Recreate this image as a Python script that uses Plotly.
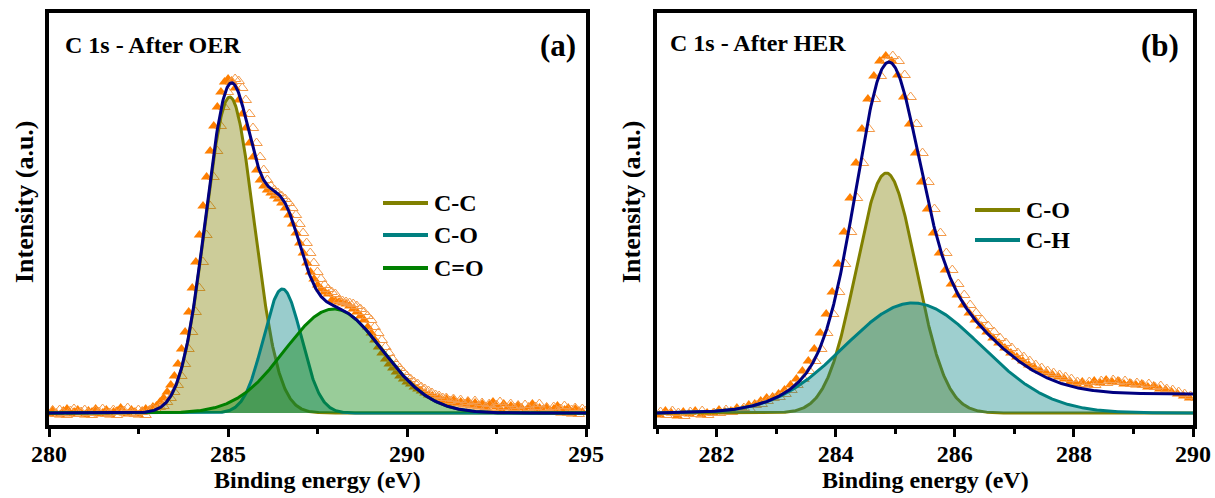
import numpy as np
import plotly.graph_objects as go

# ---------------- data: panel (a) C 1s after OER ----------------
oer_energy_start = 280.0
oer_energy_step = 0.1
oer_counts = [
    2, -1, 3, 0, -2, 2, 4, -1, 1, 3,
    0, -2, 2, 1, 4, -1, 0, 3, -2, 1,
    2, 5, 0, -1, 3, 1, -2, 2, 4, 3,
    6, 7, 11, 15, 21, 28, 37, 49, 64, 81,
    101, 125, 151, 178, 207, 236, 262, 287, 306, 321,
    331, 334, 332, 325, 313, 299, 285, 270, 256, 243,
    233, 227, 223, 220, 217, 214, 210, 205, 198, 189,
    180, 170, 160, 150, 141, 134, 128, 124, 121, 119,
    113, 112, 111, 110, 109, 107, 104, 101, 97, 93,
    86, 80, 73, 66, 60, 54, 49, 45, 41, 37,
    34, 31, 29, 26, 24, 22, 20, 18, 17, 15,
    15, 12, 14, 10, 13, 9, 11, 8, 12, 7,
    10, 6, 9, 5, 8, 11, 6, 4, 9, 5,
    7, 3, 8, 5, 2, 6, 9, 3, 5, 1,
    6, 2, 4, 7, 0, 3, 5, -1, 4, 2,
    1,
]
oer_peak_names = ["C-C", "C-O", "C=O"]
oer_peak_centers = [285.05, 286.52, 287.95]
oer_peak_heights = [316, 124, 104]
oer_peak_fwhm = [1.60, 1.25, 3.20]
oer_background = [0, 0]          # Shirley levels (low BE, high BE)

# ---------------- data: panel (b) C 1s after HER ----------------
her_energy_start = 281.0
her_energy_step = 0.1
her_counts = [
    1, -2, 2, 0, -3, 1, -1, 2, -2, 0,
    0, 3, 1, 2, 5, 4, 8, 9, 12, 15,
    16, 19, 23, 28, 34, 42, 52, 64, 80, 99,
    121, 149, 181, 215, 250, 284, 314, 337, 352, 357,
    352, 338, 316, 289, 260, 231, 204, 180, 160, 143,
    129, 118, 108, 100, 93, 87, 81, 75, 70, 65,
    60, 56, 52, 48, 45, 42, 40, 38, 36, 34,
    31, 29, 31, 28, 32, 30, 33, 31, 32, 29,
    30, 28, 29, 26, 27, 24, 23, 21, 19, 17,
    15,
]
her_peak_names = ["C-O", "C-H"]
her_peak_centers = [284.85, 285.30]
her_peak_heights = [240, 110]
her_peak_fwhm = [1.18, 2.71]
her_background = [0, 19]

# ---------------- styling ----------------
W, H = 1215, 498
FONT = "Times New Roman, Liberation Serif, serif"
data_fill = "#FF7F00"
data_open = "#F39A4A"
env_color = "#000080"
peak_line = {"C-C": "#808000", "C-O_a": "#008080", "C=O": "#008000",
             "C-O_b": "#808000", "C-H": "#008080"}
peak_fill = {"C-C": "rgba(128,128,0,0.40)", "C-O_a": "rgba(0,128,128,0.40)",
             "C=O": "rgba(0,128,0,0.40)", "C-O_b": "rgba(128,128,0,0.40)",
             "C-H": "rgba(0,128,128,0.38)"}

panels = [
    dict(start=oer_energy_start, step=oer_energy_step, counts=oer_counts,
         names=oer_peak_names, centers=oer_peak_centers, heights=oer_peak_heights,
         fwhm=oer_peak_fwhm, bg=oer_background, xrange=[280, 295],
         px=(49, 586), keys=["C-C", "C-O_a", "C=O"], xa="x", ya="y",
         tick0=280, dtick=5, minor=2.5),
    dict(start=her_energy_start, step=her_energy_step, counts=her_counts,
         names=her_peak_names, centers=her_peak_centers, heights=her_peak_heights,
         fwhm=her_peak_fwhm, bg=her_background, xrange=[281, 290],
         px=(657, 1193), keys=["C-O_b", "C-H"], xa="x2", ya="y2",
         tick0=282, dtick=2, minor=1),
]

y_top_px, y_bot_px = 13, 425
YR = [-12, 400]

fig = go.Figure()
for p in panels:
    e = np.round(p["start"] + p["step"] * np.arange(len(p["counts"])), 2)
    cnt = np.array(p["counts"], dtype=float)
    ev_per_px = (p["xrange"][1] - p["xrange"][0]) / (p["px"][1] - p["px"][0])
    # data: filled + open triangles (drawn first, under the fills)
    fig.add_trace(go.Scatter(x=e - 3.5 * ev_per_px, y=cnt, mode="markers", xaxis=p["xa"], yaxis=p["ya"],
                             marker=dict(symbol="triangle-up", size=10, color=data_fill,
                                         line=dict(width=0))))
    fig.add_trace(go.Scatter(x=e + 3.5 * ev_per_px, y=cnt, mode="markers", xaxis=p["xa"], yaxis=p["ya"],
                             marker=dict(symbol="triangle-up-open", size=10, color=data_open,
                                         line=dict(width=1))))
    # fitted components
    xf = np.linspace(p["xrange"][0], p["xrange"][1], 901)
    comps = []
    for c, h, f in zip(p["centers"], p["heights"], p["fwhm"]):
        s = f / 2.3548
        comps.append(h * np.exp(-0.5 * ((xf - c) / s) ** 2))
    tot = np.sum(comps, axis=0)
    cum = np.cumsum(tot)
    shirley = p["bg"][0] + (p["bg"][1] - p["bg"][0]) * cum / cum[-1]
    for comp, key in zip(comps, p["keys"]):
        fig.add_trace(go.Scatter(x=xf, y=comp, mode="lines", xaxis=p["xa"], yaxis=p["ya"],
                                 fill="tozeroy", fillcolor=peak_fill[key],
                                 line=dict(color=peak_line[key], width=3)))
    fig.add_trace(go.Scatter(x=xf, y=tot + shirley, mode="lines", xaxis=p["xa"], yaxis=p["ya"],
                             line=dict(color=env_color, width=3)))

font_b = dict(family=FONT, size=24, color="black", weight="bold")
ydom = [(H - y_bot_px) / H, (H - y_top_px) / H]
layout_axes = {}
for i, p in enumerate(panels):
    xname = "xaxis" if i == 0 else "xaxis2"
    yname = "yaxis" if i == 0 else "yaxis2"
    layout_axes[xname] = dict(
        domain=[p["px"][0] / W, p["px"][1] / W], range=p["xrange"], anchor=p["ya"],
        showline=True, linecolor="black", linewidth=4, mirror=True, automargin=False,
        ticks="outside", ticklen=8, tickwidth=3, tickcolor="black",
        tick0=p["tick0"], dtick=p["dtick"], ticklabelstandoff=-4,
        minor=dict(ticks="outside", ticklen=5, tickwidth=3, tickcolor="black", dtick=p["minor"]),
        showgrid=False, zeroline=False, tickfont=font_b)
    layout_axes[yname] = dict(
        domain=ydom, range=YR, anchor=p["xa"], showline=True, linecolor="black",
        linewidth=4, mirror=True, ticks="", showticklabels=False, automargin=False,
        showgrid=False, zeroline=False)

fig.update_layout(width=W, height=H,
                  margin=dict(l=0, r=0, t=0, b=0, pad=0, autoexpand=False),
                  paper_bgcolor="white", plot_bgcolor="white", showlegend=False,
                  **layout_axes)

def py(px):
    return (H - px) / H

ann = []
# panel texts
ann.append(dict(text="C 1s - After OER", x=63 / W, y=py(45), xanchor="left", yanchor="middle",
                font=font_b))
ann.append(dict(text="C 1s - After HER", x=668 / W, y=py(43), xanchor="left", yanchor="middle",
                font=font_b))
ann.append(dict(text="(a)", x=578 / W, y=py(45), xanchor="right", yanchor="middle",
                font=dict(family=FONT, size=31, color="black", weight="bold")))
ann.append(dict(text="(b)", x=1181 / W, y=py(45), xanchor="right", yanchor="middle",
                font=dict(family=FONT, size=31, color="black", weight="bold")))
# axis titles
for cx in (317.5, 925):
    ann.append(dict(text="Binding energy (eV)", x=cx / W, y=py(480), xanchor="center",
                    yanchor="middle", font=font_b))
for cx in (24, 631):
    ann.append(dict(text="Intensity (a.u.)", x=cx / W, y=py(202), xanchor="center",
                    yanchor="middle", textangle=-90,
                    font=dict(family=FONT, size=26, color="black", weight="bold")))

# manual legends
shapes = []
legends = [
    (383, 428, [203, 235, 268], oer_peak_names, ["C-C", "C-O_a", "C=O"]),
    (975, 1020, [210, 240], her_peak_names, ["C-O_b", "C-H"]),
]
for x0, x1, ys, names, keys in legends:
    for yy, nm, key in zip(ys, names, keys):
        shapes.append(dict(type="line", xref="paper", yref="paper", x0=x0 / W, x1=x1 / W,
                           y0=py(yy), y1=py(yy), line=dict(color=peak_line[key], width=4)))
        ann.append(dict(text=nm, x=(x1 + 4) / W, y=py(yy), xanchor="left", yanchor="middle",
                        font=font_b))

for a in ann:
    a.update(xref="paper", yref="paper", showarrow=False)
fig.update_layout(annotations=ann, shapes=shapes)

fig.write_html("out.html")
